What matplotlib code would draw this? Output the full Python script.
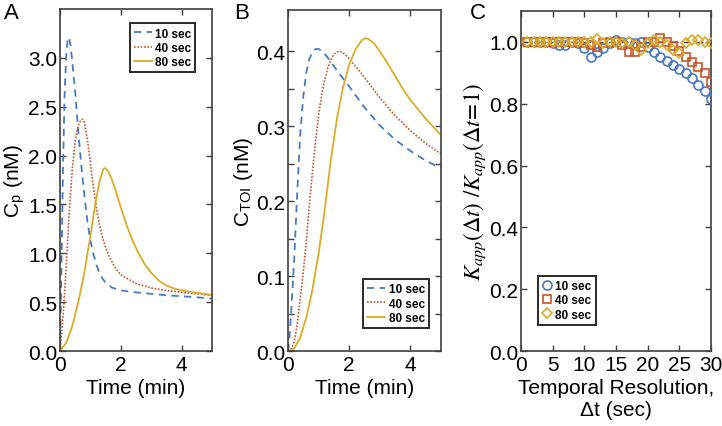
import matplotlib
matplotlib.use("Agg")
import matplotlib.pyplot as plt
import numpy as np

plt.rcParams['font.family'] = ['Liberation Sans', 'DejaVu Sans']
plt.rcParams['mathtext.fontset'] = 'stix'

# ---------------- data ----------------
labels = ["10 sec", "40 sec", "80 sec"]

tA_10 = [0, 0.05, 0.1, 0.15, 0.2, 0.25, 0.28, 0.3, 0.35, 0.4, 0.5, 0.6, 0.7, 0.8, 0.9, 1.0, 1.1, 1.2,
         1.3, 1.4, 1.5, 1.7, 2.0, 2.5, 3.0, 3.5, 4.0, 4.5, 5.0]
cp_10 = [0, 0.9, 1.9, 2.6, 3.0, 3.18, 3.21, 3.2, 3.12, 2.97, 2.65, 2.25, 1.9, 1.6, 1.33, 1.13, 0.99, 0.88,
         0.8, 0.74, 0.7, 0.65, 0.62, 0.6, 0.585, 0.57, 0.56, 0.55, 0.535]

tA_40 = [0, 0.1, 0.2, 0.3, 0.4, 0.5, 0.6, 0.7, 0.75, 0.8, 0.9, 1.0, 1.1, 1.2, 1.3, 1.4, 1.5, 1.6,
         1.8, 2.0, 2.5, 3.0, 3.5, 4.0, 4.5, 5.0]
cp_40 = [0, 0.35, 0.85, 1.4, 1.85, 2.15, 2.31, 2.37, 2.37, 2.34, 2.17, 1.92, 1.67, 1.46, 1.29, 1.16, 1.06, 0.98,
         0.86, 0.78, 0.69, 0.645, 0.62, 0.6, 0.585, 0.57]

tA_80 = [0, 0.2, 0.4, 0.6, 0.8, 1.0, 1.1, 1.2, 1.3, 1.4, 1.45, 1.5, 1.6, 1.7, 1.8, 1.9, 2.0, 2.2,
         2.4, 2.6, 2.8, 3.0, 3.25, 3.5, 3.75, 4.0, 4.5, 5.0]
cp_80 = [0, 0.08, 0.25, 0.5, 0.8, 1.18, 1.38, 1.57, 1.73, 1.84, 1.87, 1.87, 1.83, 1.76, 1.67, 1.57, 1.47, 1.28,
         1.12, 0.99, 0.88, 0.8, 0.72, 0.67, 0.64, 0.62, 0.595, 0.575]

tB_10 = [0, 0.05, 0.1, 0.2, 0.3, 0.4, 0.5, 0.6, 0.7, 0.8, 0.9, 1.0, 1.1, 1.25, 1.5, 1.75, 2.0, 2.5,
         3.0, 3.5, 4.0, 4.5, 5.0]
ctoi_10 = [0, 0.02, 0.05, 0.12, 0.21, 0.29, 0.34, 0.372, 0.39, 0.399, 0.403, 0.403, 0.4, 0.394, 0.38, 0.366,
           0.353, 0.325, 0.301, 0.282, 0.267, 0.254, 0.244]

tB_40 = [0, 0.1, 0.2, 0.3, 0.4, 0.5, 0.6, 0.7, 0.8, 0.9, 1.0, 1.1, 1.2, 1.3, 1.4, 1.5, 1.65, 1.8,
         2.0, 2.25, 2.5, 3.0, 3.5, 4.0, 4.5, 5.0]
ctoi_40 = [0, 0.002, 0.012, 0.035, 0.07, 0.105, 0.148, 0.195, 0.24, 0.28, 0.315, 0.342, 0.362, 0.378, 0.389,
           0.396, 0.4, 0.398, 0.39, 0.378, 0.365, 0.338, 0.314, 0.294, 0.277, 0.263]

tB_80 = [0, 0.2, 0.4, 0.6, 0.8, 1.0, 1.2, 1.4, 1.6, 1.8, 2.0, 2.2, 2.4, 2.5, 2.6, 2.8, 3.0, 3.25,
         3.5, 3.75, 4.0, 4.5, 5.0]
ctoi_80 = [0, 0.003, 0.018, 0.045, 0.082, 0.13, 0.188, 0.255, 0.31, 0.352, 0.382, 0.402, 0.414, 0.417,
           0.417, 0.411, 0.4, 0.384, 0.367, 0.35, 0.335, 0.31, 0.288]

dt = list(range(1, 31))
k_10 = [1.0, 1.0, 1.0, 1.0, 0.995, 0.99, 0.99, 1.0, 0.995, 0.98, 0.952, 0.966, 0.98, 0.995, 1.005,
        1.0, 1.0, 0.995, 1.0, 0.985, 0.966, 0.952, 0.938, 0.925, 0.912, 0.898, 0.884, 0.862, 0.841, 0.815]
k_40 = [1.0, 1.0, 1.0, 1.0, 1.0, 1.0, 1.0, 1.0, 1.0, 0.995, 0.99, 0.985, 0.995, 1.0, 1.0,
        0.99, 0.966, 0.966, 0.985, 1.0, 1.0, 1.012, 1.0, 0.988, 0.969, 0.95, 0.934, 0.92, 0.9, 0.869]
k_80 = [1.0, 1.0, 1.0, 1.0, 1.0, 1.0, 1.0, 1.0, 1.0, 1.0, 1.0, 1.01, 0.995, 1.0, 1.0,
        0.995, 1.0, 0.99, 0.975, 0.995, 1.005, 1.0, 0.99, 0.975, 0.963, 0.995, 1.006, 1.006, 1.0, 0.995]

# ---------------- style ----------------
c_blue = '#4a78c2'
c_red = '#c8552c'
c_gold = '#d9ac2a'
spine_col = '#404040'
W, H = 722, 427
FS = 15

fig = plt.figure(figsize=(W / 100, H / 100), dpi=100)


def px_axes(l, t, r, b):
    return fig.add_axes([l / W, 1 - b / H, (r - l) / W, (b - t) / H])


def style(ax):
    for s in ax.spines.values():
        s.set_color(spine_col)
        s.set_linewidth(1.2)
    ax.tick_params(direction='in', which='both', top=True, right=True, color=spine_col,
                   labelsize=FS, width=1.0)
    ax.tick_params(axis='y', pad=2)
    ax.tick_params(axis='x', pad=3)
    ax.tick_params(which='major', length=4)
    ax.tick_params(which='minor', length=3)


def style_legend(leg):
    leg.get_frame().set_edgecolor('#2a2a2a')
    leg.get_frame().set_linewidth(1.4)


axA = px_axes(60, 10, 212, 352)
axB = px_axes(288, 11, 441, 352)
axC = px_axes(521, 12, 711, 352)

legkw = dict(prop={'weight': 'bold', 'size': 8.5}, handletextpad=0.3, labelspacing=0.2,
             borderpad=0.35, fancybox=False, framealpha=1)

# Panel A
axA.plot(tA_10, cp_10, color=c_blue, lw=1.3, ls=(0, (4, 3)), label=labels[0])
axA.plot(tA_40, cp_40, color=c_red, lw=1.2, ls=(0, (1, 1)), label=labels[1])
axA.plot(tA_80, cp_80, color=c_gold, lw=1.3, ls='-', label=labels[2])
axA.set_xlim(0, 5)
axA.set_ylim(0, 3.5)
axA.set_xticks([0, 2, 4])
axA.set_yticks(np.arange(0, 3.01, 0.5))
axA.set_yticklabels([f"{v:.1f}" for v in np.arange(0, 3.01, 0.5)])
axA.set_xlabel("Time (min)", fontsize=FS, labelpad=3)
axA.set_ylabel(r"C$_\mathregular{p}$ (nM)", fontsize=FS, labelpad=1)
style(axA)
legA = axA.legend(loc='upper right', bbox_to_anchor=(0.93, 0.975), handlelength=1.5, **legkw)
style_legend(legA)

# Panel B
axB.plot(tB_10, ctoi_10, color=c_blue, lw=1.3, ls=(0, (4, 3)), label=labels[0])
axB.plot(tB_40, ctoi_40, color=c_red, lw=1.2, ls=(0, (1, 1)), label=labels[1])
axB.plot(tB_80, ctoi_80, color=c_gold, lw=1.3, ls='-', label=labels[2])
axB.set_xlim(0, 5)
axB.set_ylim(0, 0.455)
axB.set_xticks([0, 2, 4])
axB.set_yticks([0, 0.1, 0.2, 0.3, 0.4])
axB.set_yticklabels(["0.0", "0.1", "0.2", "0.3", "0.4"])
axB.set_yticks([0.05, 0.15, 0.25, 0.35], minor=True)
axB.set_xlabel("Time (min)", fontsize=FS, labelpad=3)
axB.set_ylabel(r"C$_\mathregular{TOI}$ (nM)", fontsize=FS, labelpad=1)
style(axB)
axB.tick_params(which='minor', length=4)
legB = axB.legend(loc='lower right', bbox_to_anchor=(0.96, 0.05), handlelength=1.5, **legkw)
style_legend(legB)

# Panel C
axC.axhline(1.0, color='#333333', lw=1.0, ls=(0, (5, 4)), zorder=1)
axC.plot(dt, k_10, ls='none', marker='o', mfc='none', mec=c_blue, ms=6.5, mew=1.2, label=labels[0], zorder=3)
axC.plot(dt, k_40, ls='none', marker='s', mfc='none', mec=c_red, ms=6, mew=1.2, label=labels[1], zorder=3)
axC.plot(dt, k_80, ls='none', marker='D', mfc='none', mec=c_gold, ms=5.5, mew=1.2, label=labels[2], zorder=3)
axC.set_xlim(0, 30)
axC.set_ylim(0, 1.1)
axC.set_xticks(range(0, 31, 5))
axC.set_yticks(np.arange(0, 1.01, 0.2))
axC.set_yticklabels([f"{v:.1f}" for v in np.arange(0, 1.01, 0.2)])
axC.set_xlabel("Temporal Resolution,\n\u0394t (sec)", fontsize=FS, labelpad=3, linespacing=1.15)
axC.set_ylabel(r"$K_{app}(\mathit{\Delta} t)\ /K_{app}(\mathit{\Delta} t\!=\!1)$", fontsize=16.5, labelpad=1)
style(axC)
legC = axC.legend(loc='lower left', bbox_to_anchor=(0.06, 0.06), handlelength=0.8, **legkw)
style_legend(legC)

# panel letters
fig.text(4 / W, 1 - 3 / H, "A", fontsize=16, va='top', ha='left')
fig.text(234 / W, 1 - 3 / H, "B", fontsize=16, va='top', ha='left')
fig.text(470 / W, 1 - 3 / H, "C", fontsize=16, va='top', ha='left')

fig.savefig("out.png", dpi=100)
